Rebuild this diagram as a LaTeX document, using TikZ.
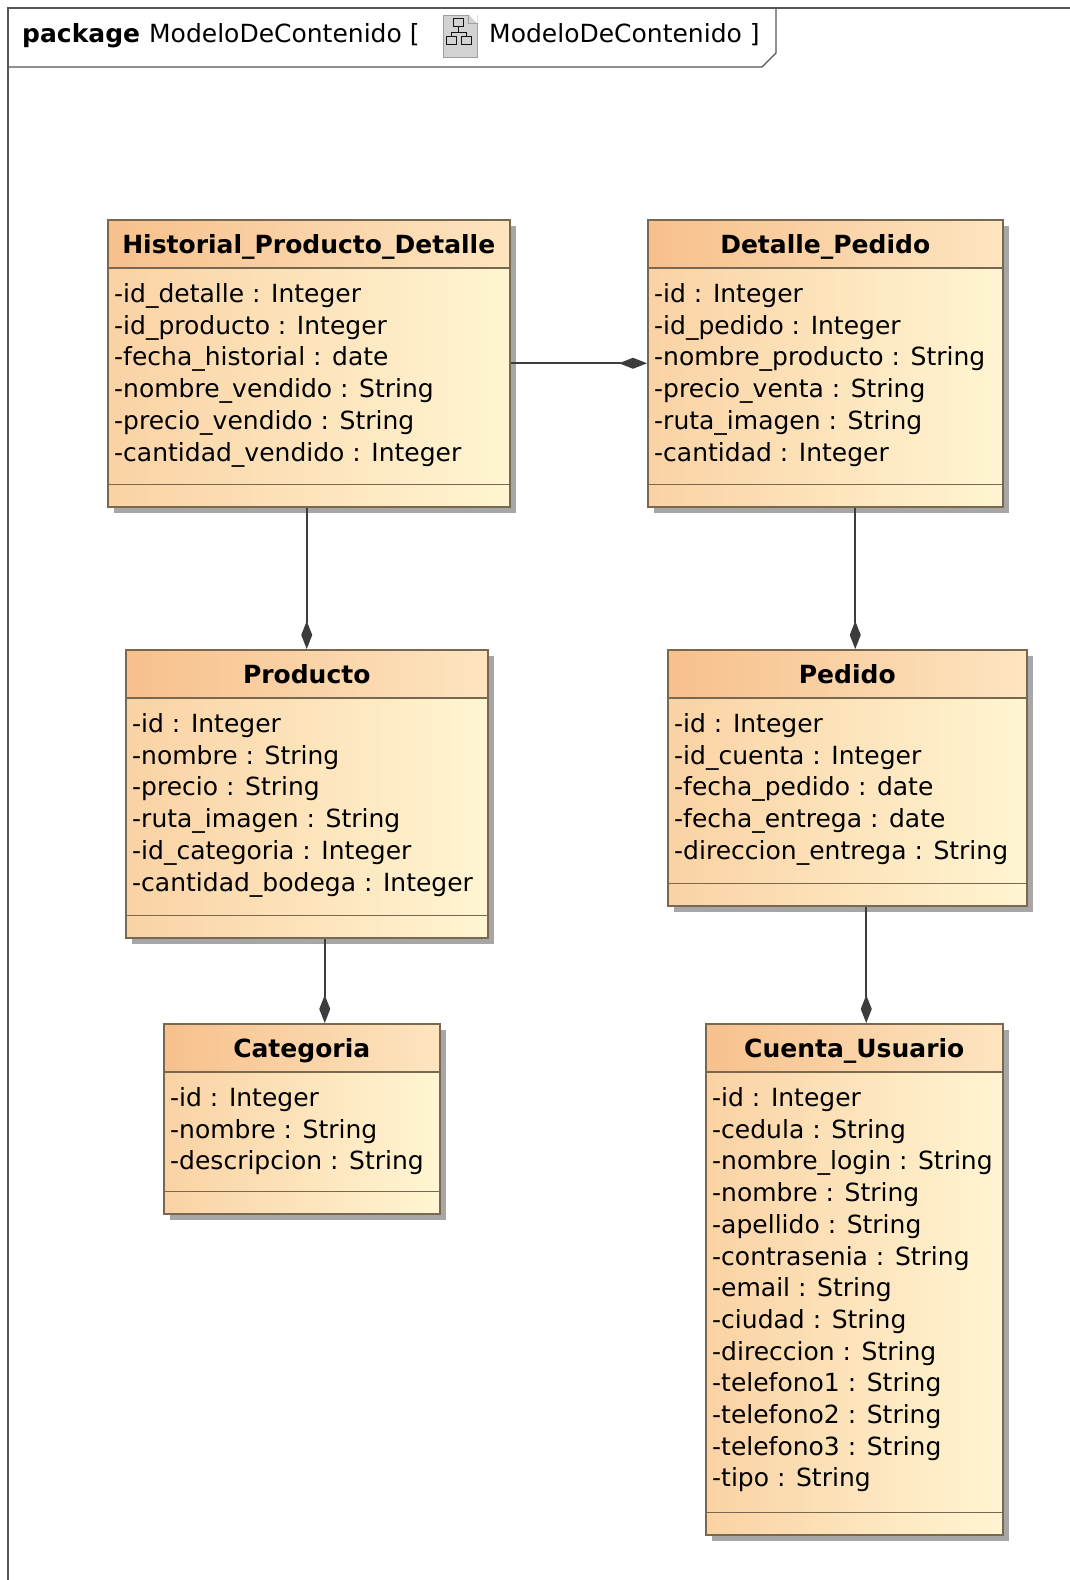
\documentclass[tikz,border=0pt]{standalone}
\usepackage{fontspec}
\setmainfont{DejaVu Sans}
\usetikzlibrary{shadows,arrows.meta}

\definecolor{headL}{RGB}{247,192,140}
\definecolor{headR}{RGB}{253,229,192}
\definecolor{bodyL}{RGB}{250,210,164}
\definecolor{bodyR}{RGB}{255,245,210}
\definecolor{umlline}{RGB}{120,104,80}
\definecolor{linkgray}{RGB}{60,60,60}
\definecolor{framegray}{RGB}{85,85,85}

% class box: name, x, y, width, height, title, attributes
\newcommand\umlclass[7]{%
  \node[classbody, minimum width=#4pt, minimum height=#5pt] (#1) at (#2,#3) {};
  \node[classhead, minimum width=#4pt] (#1-head) at (#1.north west) {};
  \path (#1.north) ++(0,34) node[classtitle] (#1-title) {#6};
  \draw[umlline, line width=1.5pt] (#1.south west) ++(0,-23) coordinate (#1-op) -- ++(#4,0);
  \foreach \a [count=\i] in {#7}
    \path (#1-head.south west) ++(7,{34+31.7*(\i-1)}) node[attr] (#1-\i) {\a};
}

\begin{document}
\begin{tikzpicture}[x=1pt,y=-1pt,
    font=\fontsize{25}{30}\selectfont,
    classbody/.style={anchor=north west, draw=umlline, line width=1.5pt,
      left color=bodyL, right color=bodyR,
      drop shadow={shadow xshift=6pt, shadow yshift=-6pt, fill=black!35, opacity=1}},
    classhead/.style={anchor=north west, draw=umlline, line width=1.5pt,
      minimum height=48pt, inner sep=0pt, left color=headL, right color=headR},
    classtitle/.style={anchor=base, inner sep=0pt, font=\fontsize{25}{30}\selectfont\bfseries},
    attr/.style={anchor=base west, inner sep=0pt},
    comp/.style={draw=linkgray, line width=1.6pt, -{Diamond[length=28pt,width=11pt]}}]

  \useasboundingbox (0,0) rectangle (1070,1580);
  \fill[white] (0,0) rectangle (1070,1580);

  % package frame
  \draw[framegray, line width=2pt] (1070,8) -- (8,8) -- (8,1580);
  \draw[framegray, line width=1.3pt] (8,67) -- (762,67) -- (776,53) -- (776,8);
  \node[anchor=base west, inner sep=0pt] (pkg) at (22,42) {\textbf{package}\hspace{9pt}ModeloDeContenido [};
  \node[draw=gray!75, fill=gray!35, line width=1pt, minimum width=34pt, minimum height=42pt, inner sep=0pt] (pkgicon) at (460,36) {};
  \fill[white] (pkgicon.north east) -- ++(-9,0) -- ++(9,9) -- cycle;
  \draw[gray!75, line width=1pt] (pkgicon.north east) ++(-9,0) -- ++(0,9) -- ++(9,0);
  \begin{scope}[draw=gray!15!black, line width=1pt]
    \draw (453,18) rectangle (463,26);
    \draw (458,26) -- (458,32) (451,32) -- (466,32) (451,32) -- (451,36) (466,32) -- (466,36);
    \draw (446,36) rectangle (456,44);
    \draw (461,36) rectangle (471,44);
  \end{scope}
  \node[anchor=base west, inner sep=0pt] (pkgname) at (489,42) {ModeloDeContenido ]};

  % classes
  \umlclass{hist}{107}{219}{402}{287}{Historial\_Producto\_Detalle}{%
    -id\_detalle : Integer, -id\_producto : Integer, -fecha\_historial : date,
    -nombre\_vendido : String, -precio\_vendido : String, -cantidad\_vendido : Integer}
  \umlclass{det}{647}{219}{355}{287}{Detalle\_Pedido}{%
    -id : Integer, -id\_pedido : Integer, -nombre\_producto : String,
    -precio\_venta : String, -ruta\_imagen : String, -cantidad : Integer}
  \umlclass{prod}{125}{649}{362}{288}{Producto}{%
    -id : Integer, -nombre : String, -precio : String, -ruta\_imagen : String,
    -id\_categoria : Integer, -cantidad\_bodega : Integer}
  \umlclass{ped}{667}{649}{359}{256}{Pedido}{%
    -id : Integer, -id\_cuenta : Integer, -fecha\_pedido : date,
    -fecha\_entrega : date, -direccion\_entrega : String}
  \umlclass{cat}{163}{1023}{276}{190}{Categoria}{%
    -id : Integer, -nombre : String, -descripcion : String}
  \umlclass{cue}{705}{1023}{297}{511}{Cuenta\_Usuario}{%
    -id : Integer, -cedula : String, -nombre\_login : String, -nombre : String,
    -apellido : String, -contrasenia : String, -email : String, -ciudad : String,
    -direccion : String, -telefono1 : String, -telefono2 : String,
    -telefono3 : String, -tipo : String}

  % composition links
  \draw[comp] (hist) -- (det);
  \draw[comp] (hist.south -| prod.north) -- (prod.north);
  \draw[comp] ([xshift=23pt]cat.north |- prod.south) -- ([xshift=23pt]cat.north);
  \draw[comp] ([xshift=8pt]ped.north |- det.south) -- ([xshift=8pt]ped.north);
  \draw[comp] ([xshift=12pt]cue.north |- ped.south) -- ([xshift=12pt]cue.north);

\end{tikzpicture}
\end{document}
